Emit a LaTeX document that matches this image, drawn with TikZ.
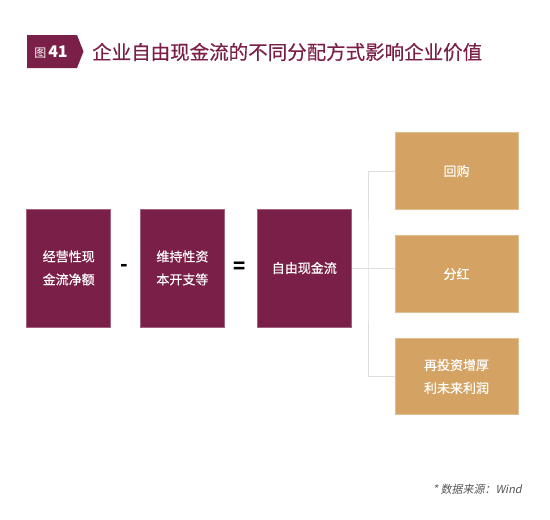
\documentclass[tikz,border=0pt]{standalone}
\usepackage{fontspec}
\setmainfont{Noto Sans CJK SC}
\newfontfamily\cjk{Noto Sans CJK SC}
\newfontfamily\cjkmed[FakeBold=0.4]{Noto Sans CJK SC}
\newfontfamily\cjkit[FakeSlant=0.2]{Noto Sans CJK SC}
\definecolor{maroon}{HTML}{7A1F47}
\definecolor{gold}{HTML}{D4A262}
\definecolor{linegray}{HTML}{DEDEDE}
\definecolor{notegray}{HTML}{555555}
\begin{document}
\begin{tikzpicture}[x=1pt,y=-1pt,
  mbox/.style={fill=maroon,draw=maroon!70!white,line width=0.6pt,text=white,font=\cjkmed\fontsize{13}{23}\selectfont,align=center,inner sep=0pt},
  gbox/.style={fill=gold,draw=gold!70!white,line width=0.6pt,text=white,font=\cjkmed\fontsize{13}{23}\selectfont,align=center,inner sep=0pt,minimum width=123pt,minimum height=76.5pt},
  op/.style={font=\fontsize{20}{20}\selectfont\bfseries,text=black},
  conn/.style={draw=linegray,line width=0.9pt}]
\useasboundingbox (0,0) rectangle (550,520);
% header badge
\fill[maroon] (27,35) -- (77,35) -- (83.5,51.5) -- (77,68) -- (27,68) -- cycle;
\node[text=white,inner sep=0pt] (badge) at (51,52) {\fontsize{12}{12}\selectfont 图\,\fontsize{16}{16}\selectfont\bfseries 41};
\node[anchor=west,text=maroon,inner sep=0pt,font=\cjkmed\fontsize{19.5}{20}\selectfont] (title) at (92,52) {企业自由现金流的不同分配方式影响企业价值};
% left boxes
\node[mbox,minimum width=84pt,minimum height=118pt] (a) at (68.7,268) {经营性现\\金流净额};
\node[op] (minus) at (124,268) {-};
\node[mbox,minimum width=83.5pt,minimum height=118pt] (b) at (182.4,268) {维持性资\\本开支等};
\node[op] (eq) at (240,268) {=};
\node[mbox,minimum width=94.5pt,minimum height=118pt] (c) at (304.3,268) {自由现金流};
% right boxes
\node[gbox] (r1) at (456.5,171) {回购};
\node[gbox] (r2) at (456.5,274) {分红};
\node[gbox] (r3) at (456.5,376.5) {再投资增厚\\利未来利润};
% connectors
\coordinate (j) at (368,268);
\draw[conn] (c.east) -- (j);
\draw[conn] (r1.west) -| (j) |- (r3.west);
\draw[conn] (j) -- (j -| r2.west);
% footnote
\node[anchor=east,text=notegray,inner sep=0pt,font=\cjkit\fontsize{11}{11}\selectfont] (note) at (522,489) {* 数据来源：Wind};
\end{tikzpicture}
\end{document}
